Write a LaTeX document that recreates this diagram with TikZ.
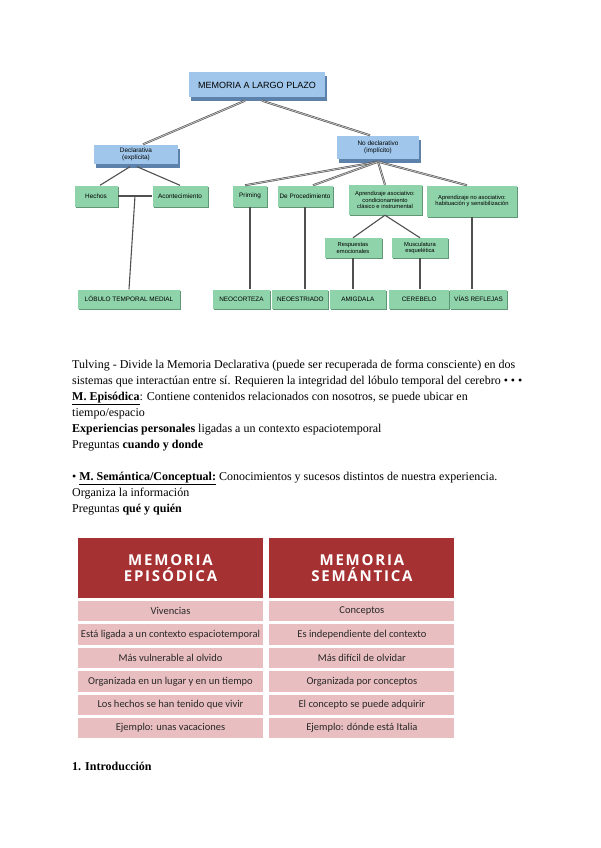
\documentclass[tikz,border=0pt]{standalone}
\usepackage{fontspec}
\setmainfont{Liberation Serif}
\setsansfont{Liberation Sans}
\newfontfamily\cellfont{Carlito}
\newfontfamily\headfont[LetterSpace=12]{Open Sans}
\usetikzlibrary{positioning,calc,shadows}
\definecolor{BoxBlue}{RGB}{160,199,235}
\definecolor{BlueEdge}{RGB}{92,130,172}
\definecolor{BoxGreen}{RGB}{143,211,170}
\definecolor{GreenEdge}{RGB}{96,150,118}
\definecolor{LinkGray}{RGB}{80,80,80}
\definecolor{HeadRed}{RGB}{166,49,50}
\definecolor{RowPink}{RGB}{233,190,192}
\definecolor{CellText}{RGB}{40,40,40}

\begin{document}
\begin{tikzpicture}[x=1pt,y=-1pt,
          node distance=2.5pt,
          bx/.style={fill=BoxBlue,inner sep=1pt,align=center,
                     font=\sffamily\fontsize{6.4}{7.2}\selectfont,
                     drop shadow={shadow xshift=1.8pt,shadow yshift=-4pt,fill=BlueEdge,opacity=1}},
          gx/.style={fill=BoxGreen,inner sep=1pt,align=center,minimum height=21pt,
                     font=\sffamily\fontsize{6.4}{7}\selectfont,
                     drop shadow={shadow xshift=1pt,shadow yshift=-1.2pt,fill=GreenEdge,opacity=1}},
          bt/.style={gx,minimum height=19pt},
          lk/.style={LinkGray,line width=1.1pt},
          dk/.style={LinkGray,double=gray!45,double distance=0.8pt,line width=0.6pt},
          hd/.style={fill=HeadRed,text=white,minimum width=185pt,minimum height=60pt,
                     inner sep=0pt,align=center,
                     font=\headfont\bfseries\fontsize{15}{15.5}\selectfont},
          rw/.style={fill=RowPink,text=CellText,minimum width=185pt,minimum height=20.5pt,
                     inner sep=0pt,font=\cellfont\fontsize{10.5}{12}\selectfont},
          tx/.style={anchor=north west,align=left,inner sep=0pt,font=\fontsize{12}{16}\selectfont}
        ]
          \fill[white] (0,0) rectangle (600,848);
          \useasboundingbox (0,0) rectangle (600,848);

          % concept map
          \node(mem)[bx,minimum width=136pt,minimum height=25pt,
                     font=\sffamily\fontsize{9}{10}\selectfont] at (257,85) {MEMORIA A LARGO PLAZO};
          \node(decl)[bx,minimum width=84pt,minimum height=19pt] at (136,154) {Declarativa\\(explícita)};
          \node(nodecl)[bx,minimum width=82pt,minimum height=23pt] at (378,147) {No declarativo\\(implícito)};

          \node(hechos)[gx,minimum width=43pt] at (96,196) {Hechos};
          \node(acont)[gx,minimum width=55pt] at (180,196) {Acontecimiento};
          \node(priming)[gx,minimum width=34pt] at (250,196) {Priming};
          \node(proced)[gx,minimum width=55pt] at (305,196) {De Procedimiento};
          \node(asoc)[gx,minimum width=73pt,minimum height=30pt,font=\sffamily\fontsize{5.8}{6.6}\selectfont]
               at (385,200) {Aprendizaje asociativo:\\condicionamiento\\clásico e instrumental};
          \node(noasoc)[gx,minimum width=90pt,minimum height=31pt,font=\sffamily\fontsize{5.8}{6.6}\selectfont]
               at (472,201) {Aprendizaje no asociativo:\\habituación y sensibilización};
          \node(resp)[gx,minimum width=57pt,minimum height=20pt,font=\sffamily\fontsize{5.8}{6.6}\selectfont]
               at (353,248) {Respuestas\\emocionales};
          \node(musc)[gx,minimum width=56pt,minimum height=20pt,font=\sffamily\fontsize{5.8}{6.6}\selectfont]
               at (420,248) {Musculatura\\esquelética};

          \node(lobulo)[bt,minimum width=102pt] at (129,299) {LÓBULO TEMPORAL MEDIAL};
          \node(neocort)[bt,minimum width=57pt] at (241.5,299) {NEOCORTEZA};
          \node(neoestr)[bt,minimum width=56pt,right=2pt of neocort] {NEOESTRIADO};
          \node(amig)[bt,minimum width=56pt,right=1pt of neoestr] {AMIGDALA};
          \node(cereb)[bt,minimum width=60pt,right=3pt of amig] {CEREBELO};
          \node(vias)[bt,minimum width=57pt,right=0.5pt of cereb] {VÍAS REFLEJAS};

          \draw[dk] ([xshift=-12pt,yshift=-3pt]mem.south) -- ([xshift=7pt]decl.north);
          \draw[dk] ([xshift=5pt,yshift=-3pt]mem.south) -- ([xshift=-8pt]nodecl.north);
          \draw[lk] ([xshift=-6pt,yshift=-3pt]decl.south) -- ([xshift=4pt]hechos.north);
          \draw[lk] ([xshift=1pt,yshift=-3pt]decl.south) -- (acont.north);
          \draw[lk] (hechos.east) -- (acont.west);
          \coordinate(hmid) at ($(hechos.east)!0.5!(acont.west)$);
          \draw[lk] (hmid) -- (lobulo.north);
          \draw[dk] ([yshift=-3pt]nodecl.south) -- ([xshift=-5pt]priming.north);
          \draw[dk] ([yshift=-3pt]nodecl.south) -- ([xshift=8pt]proced.north);
          \draw[dk] ([yshift=-3pt]nodecl.south) -- (asoc.north);
          \draw[dk] ([yshift=-3pt]nodecl.south) -- ([xshift=-5pt]noasoc.north);
          \draw[lk] (asoc.south) -- (resp.north);
          \draw[lk] (asoc.south) -- (musc.north);
          \draw[lk] (priming.south) -- (priming.south |- neocort.north);
          \draw[lk] (proced.south) -- (proced.south |- neoestr.north);
          \draw[lk] (resp.south) -- (resp.south |- amig.north);
          \draw[lk] (musc.south) -- (musc.south |- cereb.north);
          \draw[lk] (noasoc.south) -- (noasoc.south |- vias.north);

          % notes
          \node(notes)[tx] at (72,357) {\strut Tulving - Divide la Memoria Declarativa (puede ser recuperada de forma consciente) en dos\\
            sistemas que interactúan entre sí. Requieren la integridad del lóbulo temporal del cerebro • • •\\
            \underline{\textbf{M. Episódica}}: Contiene contenidos relacionados con nosotros, se puede ubicar en\\
            tiempo/espacio\\
            \textbf{Experiencias personales} ligadas a un contexto espaciotemporal\\
            Preguntas \textbf{cuando y donde}\\
            \mbox{}\\
            • \underline{\textbf{M. Semántica/Conceptual:}} Conocimientos y sucesos distintos de nuestra experiencia.\\
            Organiza la información\\
            Preguntas \textbf{qué y quién}};

          % table
          \node(hepi)[hd] at (170.5,568) {MEMORIA\\EPISÓDICA};
          \node(hsem)[hd,right=6pt of hepi] {MEMORIA\\SEMÁNTICA};
          \node(e1)[rw,below=of hepi]{Vivencias};
          \node(e2)[rw,below=of e1]{Está ligada a un contexto espaciotemporal};
          \node(e3)[rw,below=of e2]{Más vulnerable al olvido};
          \node(e4)[rw,below=of e3]{Organizada en un lugar y en un tiempo};
          \node(e5)[rw,below=of e4]{Los hechos se han tenido que vivir};
          \node(e6)[rw,below=of e5]{Ejemplo: unas vacaciones};
          \node(s1)[rw,below=of hsem]{Conceptos};
          \node(s2)[rw,below=of s1]{Es independiente del contexto};
          \node(s3)[rw,below=of s2]{Más difícil de olvidar};
          \node(s4)[rw,below=of s3]{Organizada por conceptos};
          \node(s5)[rw,below=of s4]{El concepto se puede adquirir};
          \node(s6)[rw,below=of s5]{Ejemplo: dónde está Italia};

          \node(intro)[anchor=base west,inner sep=0pt,font=\fontsize{12}{16}\selectfont\bfseries] at (72,770) {1. Introducción};
        \end{tikzpicture}
\end{document}
